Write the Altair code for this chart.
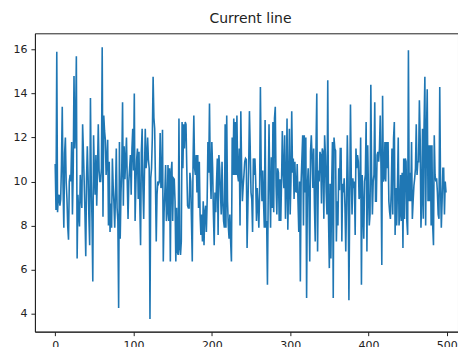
import altair as alt
import pandas as pd

seg1 = [10.8, 8.7, 15.9, 8.6, 9.3, 9.4, 8.9, 9.2, 10.8, 13.4,
        9.8, 7.9, 11.3, 12.0, 10.0, 9.2, 7.95, 7.35, 10.0, 10.3,
        10.0, 11.8, 8.5, 10.5, 14.8, 11.5, 12.4, 15.7, 6.5, 9.4,
        8.6, 7.95, 10.3, 9.3, 8.8, 12.6, 11.35, 10.0, 8.5, 6.6,
        10.1, 11.6, 10.2, 8.4, 7.1, 13.8, 10.0, 8.2, 5.45, 12.1,
        10.4, 9.4, 11.2, 8.9, 10.5, 12.6, 10.5, 10.0]
seg2 = [10.0, 10.6, 16.1, 8.4, 13.0, 12.3, 11.9, 10.3, 11.0, 11.9,
        8.0, 10.9, 7.7, 9.0, 7.9, 11.05, 9.8, 9.0, 7.9, 9.5,
        11.5, 8.8, 8.2, 4.25, 11.8, 7.4, 9.5, 10.6, 13.6, 8.9,
        11.6, 10.1, 11.0, 12.0, 10.0, 8.3, 10.0, 10.6, 11.2, 9.4,
        11.5, 12.4, 10.5, 14.0, 8.2, 9.85, 11.0, 11.5, 9.2, 11.35,
        9.0, 7.1, 11.35, 12.4, 9.7, 8.3, 10.5, 12.4, 10.6, 11.0,
        12.0, 11.0, 10.6, 3.75]
seg3 = [10.15, 10.6, 12.0, 14.76, 12.9, 12.4, 10.0, 7.27, 9.4, 10.0,
        9.9, 10.0, 12.2, 9.7, 9.8, 12.35, 6.36, 8.6, 9.5, 10.75,
        8.2, 8.6, 10.75, 8.2, 10.6, 6.36, 10.4, 10.9, 8.2, 10.15,
        10.1, 9.1, 6.36, 8.8, 6.8, 6.66, 12.87, 6.95, 6.66, 7.27,
        12.7, 10.6, 12.6, 11.5, 12.7, 12.6, 10.6, 8.9, 8.8, 8.8,
        10.4, 10.0, 8.2, 6.36, 10.9, 13.0, 10.6]
seg4 = [10.3, 11.2, 9.5, 11.2, 8.8, 10.9, 8.5, 7.57, 8.5, 7.27,
        9.1, 7.1, 8.6, 8.9, 7.7, 9.1, 11.8, 10.4, 13.55, 10.4,
        9.2, 11.8, 10.6, 8.5, 7.1, 9.5, 8.6, 10.0, 11.05, 7.57,
        11.2, 10.6, 9.5, 8.5, 10.9, 9.1, 8.2, 7.9, 12.6, 7.9,
        13.0, 9.1,
        8.0, 7.4, 8.5, 7.27, 6.36, 12.0, 10.3, 12.87, 10.3, 12.7,
        10.3, 13.0, 10.3, 10.0, 11.5, 8.0, 13.2, 10.6, 9.1, 9.8,
        10.3, 10.9, 11.05, 11.0, 6.97, 8.8, 10.6, 13.2]
seg5 = [11.5, 9.5, 9.2, 7.7, 11.05, 10.3, 11.05, 10.0, 8.2, 9.7,
        8.9, 7.9, 9.5, 14.3, 10.6, 9.1, 10.5, 9.1, 7.9, 12.8,
        7.9, 8.2, 5.3, 9.5, 12.6, 9.8, 7.9, 11.1, 8.8, 12.7,
        8.6, 12.87, 13.4, 9.8, 8.5, 10.6, 10.4, 8.2, 10.1, 8.2,
        10.0, 12.3, 10.4, 9.7, 12.1, 8.3, 9.7, 12.87, 7.8, 9.7,
        12.4, 8.5, 10.0, 13.2, 10.4, 11.05, 9.2, 10.9]
seg6 = [9.6, 9.5, 10.8, 9.1, 7.7, 10.0, 5.45, 10.0, 11.05, 12.1,
        8.0, 12.1, 9.5, 12.0, 4.7, 9.8, 10.6, 9.3, 6.36, 11.35,
        12.1, 11.05, 9.7, 11.5, 8.9, 7.27, 11.5, 14.0, 6.82, 10.5,
        10.0, 11.35, 11.2, 9.0, 11.5, 11.35, 8.3, 12.1, 11.2, 9.5,
        8.5, 14.6, 8.3, 6.06, 9.9, 6.5, 9.8, 11.8, 4.7, 12.0,
        11.5, 11.4, 7.27, 9.1, 8.0, 10.6, 9.6, 11.5, 11.5, 7.27,
        9.9, 9.5, 10.15, 8.8]
seg7 = [6.82, 9.1, 12.1, 10.0, 4.6, 8.9, 13.5, 10.3, 8.5, 10.15,
        9.7, 10.0, 7.57, 11.5, 10.6, 11.2, 10.9, 9.2, 9.4, 12.0,
        5.3, 10.3, 8.8, 7.4, 10.0, 10.3, 12.7, 6.82, 11.65, 9.5,
        8.0, 8.5, 14.4, 10.4, 8.5, 10.0, 10.3, 13.6, 9.1, 9.1,
        11.2, 11.35, 10.9, 11.5, 13.0, 10.6, 6.2, 13.9, 10.0, 10.15,
        11.8, 10.0, 11.8, 10.6, 11.8, 9.1, 8.6, 8.3, 9.5, 11.5,
        8.5, 11.95, 12.7]
seg8 = [7.57, 9.7, 8.0, 9.7, 12.0, 8.0, 8.5, 10.3, 8.2, 10.4,
        6.97, 11.05, 8.3, 11.05, 10.9, 8.2, 7.57, 15.97, 9.1, 10.4,
        9.1, 11.8, 8.3, 9.1, 9.8, 10.15, 10.6, 12.6, 10.3, 10.9,
        10.9, 13.7, 11.95, 7.9, 9.2, 12.4, 8.3, 12.6, 14.76, 8.0,
        12.1, 14.2, 9.1, 11.65, 9.1, 11.65, 8.0, 11.65, 8.0, 7.1,
        12.1, 10.3, 10.0, 10.15, 9.5, 8.5, 8.3, 14.3, 9.84, 7.9,
        9.1, 10.6, 10.6, 8.5, 10.0, 9.5]

x_ticks = [0, 100, 200, 300, 400, 500]
y_ticks = [4, 6, 8, 10, 12, 14, 16]
title_text = "Current line"

values = seg1 + seg2 + seg3 + seg4 + seg5 + seg6 + seg7 + seg8
df = pd.DataFrame({"idx": list(range(len(values))), "value": values})

FONT = "DejaVu Sans"
W, H = 424, 299
AX = dict(title=None, grid=False, format="d",
          domainColor="#222222", domainWidth=1,
          tickColor="#222222", tickWidth=1, tickSize=4,
          labelFont=FONT, labelFontSize=11, labelColor="#222222",
          labelPadding=4)

chart = alt.Chart(df).mark_line(color="#1f77b4", strokeWidth=1.6, clip=True).encode(
    x=alt.X("idx:Q",
            scale=alt.Scale(domain=[-25.9, 514.3], nice=False, zero=False),
            axis=alt.Axis(values=x_ticks, **AX)),
    y=alt.Y("value:Q",
            scale=alt.Scale(domain=[3.17, 16.74], nice=False, zero=False),
            axis=alt.Axis(values=y_ticks, **AX)),
).properties(
    width=W, height=H,
    autosize=alt.AutoSizeParams(type="none"),
    padding={"left": 35, "top": 33, "right": 0, "bottom": 15},
    title=alt.TitleParams(title_text, font=FONT, fontSize=14, fontWeight="normal",
                          color="#222222", anchor="middle", dx=4, offset=7),
).configure_view(stroke="#222222", strokeWidth=1)

chart.save("out.html", embed_options={"renderer": "svg", "actions": False})
